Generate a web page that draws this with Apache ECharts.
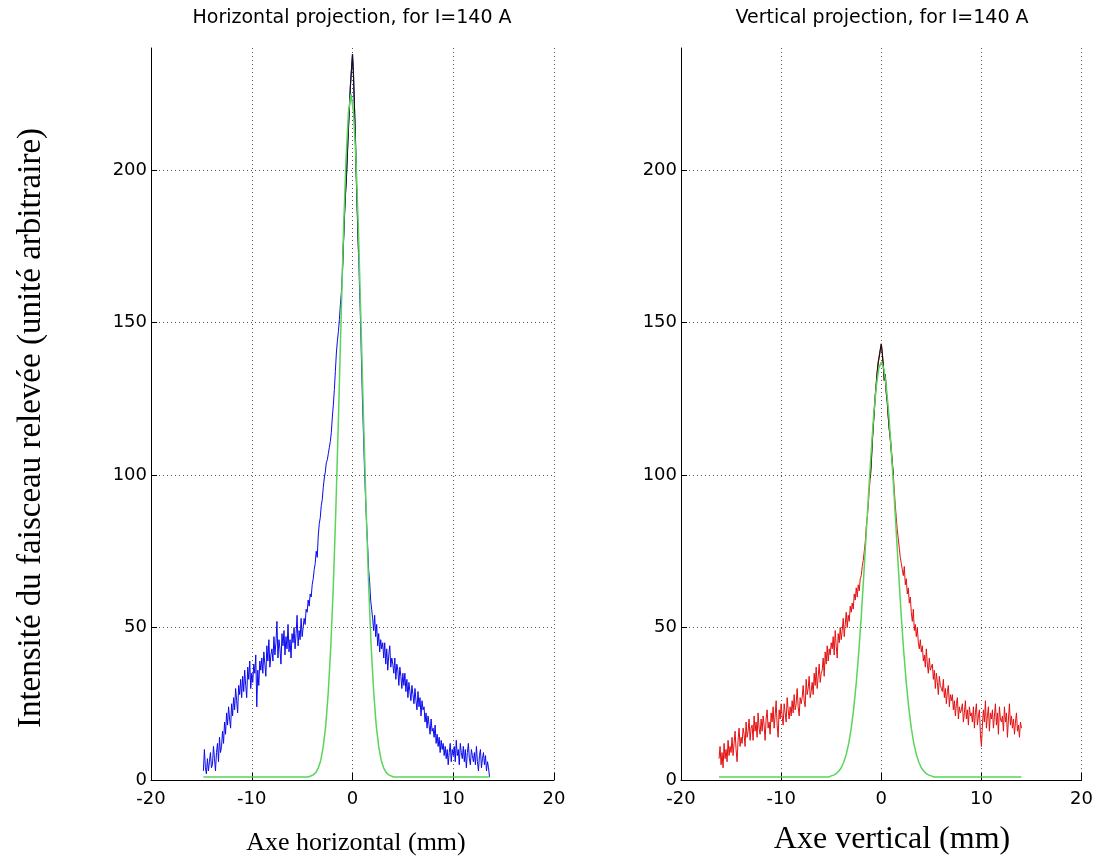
<!DOCTYPE html>
<html>
<head>
<meta charset="utf-8">
<script src="https://cdn.jsdelivr.net/npm/echarts@6/dist/echarts.min.js"></script>
<style>
  html, body { margin: 0; padding: 0; background: #ffffff; }
  #chart { width: 1096px; height: 859px; }
</style>
</head>
<body>
<div id="chart"></div>
<script>
// Beam profile projections measured at I = 140 A.
// Measured samples are taken every 0.1 mm starting at the given position.
const stepMm = 0.1;

// Horizontal projection: measured intensity (arbitrary units)
const horizStart = -14.8;
const horizIntensity = [
  3, 10, 4, 2, 7, 3, 6, 9, 4,
  5, 11, 7, 3, 9, 12, 6, 14, 9, 11,
  16, 12, 19, 15, 22, 18, 24, 20, 17, 25,
  21, 27, 23, 30, 26, 22, 31, 28, 33, 27,
  34, 29, 36, 31, 27, 37, 33, 39, 30, 35,
  32, 38, 35, 41, 24, 36, 31, 39, 36, 40,
  35, 42, 38, 34, 44, 39, 46, 37, 41, 43,
  39, 47, 41, 45, 52, 40, 46, 43, 38, 48,
  44, 49, 41, 47, 43, 51, 42, 46, 40, 48,
  45, 50, 43, 48, 54, 44, 49, 46, 53, 47,
  50, 53, 51, 56, 55, 59, 57, 61, 60, 64,
  66, 69, 71, 75, 73, 80, 84, 86, 90, 92,
  96, 99, 101, 104, 105, 107, 109, 111, 114, 119,
  123, 128, 134, 140, 144, 147, 151, 156, 160, 167,
  176, 185, 192, 198, 206, 214, 221, 228, 233, 238,
  231, 220, 209, 195, 184, 173, 161, 150, 136, 123,
  112, 101, 92, 84, 77, 69, 65, 59, 56, 53,
  49, 54, 47, 51, 44, 48, 42, 46, 43, 45,
  40, 45, 38, 43, 36, 41, 44, 37, 40, 38,
  35, 40, 33, 38, 36, 31, 37, 34, 30, 35,
  31, 35, 29, 33, 27, 32, 29, 26, 31, 28,
  25, 30, 26, 23, 29, 24, 27, 21, 26, 23,
  24, 19, 22, 17, 21, 18, 15, 20, 16, 17,
  14, 18, 12, 15, 11, 14, 9, 13, 10, 12,
  8, 11, 7, 10, 5, 9, 12, 6, 10, 8,
  11, 6, 13, 8, 10, 5, 12, 9, 7, 11,
  6, 10, 4, 9, 12, 7, 5, 10, 8, 6,
  9, 5, 11, 6, 3, 8, 10, 4, 7, 9,
  5, 8, 3, 6, 4, 1
];

// Horizontal projection: gaussian fit
const horizFitX = [
  -14.8, -4.4, -4.15, -3.9, -3.65, -3.4, -3.15, -2.9, -2.65, -2.4, -2.15,
  -1.9, -1.65, -1.4, -1.15, -0.9, -0.65, -0.4, -0.15, 0.1, 0.35, 0.6,
  0.85, 1.1, 1.35, 1.6, 1.85, 2.1, 2.35, 2.6, 2.85, 3.1, 3.35, 3.6, 3.85,
  4.1, 13.6
];
const horizFitY = [
  1, 1, 1.3, 1.7, 2.4, 3.9, 6.4, 11, 18, 29, 44,
  64, 89, 118, 149, 179, 203, 219, 225, 219, 203, 179,
  149, 118, 89, 64, 44, 29, 18, 11, 6.4, 3.9, 2.4, 1.7, 1.3,
  1, 1
];

// Vertical projection: measured intensity (arbitrary units)
const vertStart = -16.2;
const vertIntensity = [
  7, 11, 5,
  9, 4, 12, 7, 10, 6, 13, 8, 11, 9,
  14, 8, 12, 16, 10, 6, 13, 17, 11, 14,
  12, 17, 15, 11, 19, 14, 16, 20, 13, 17,
  18, 13, 21, 16, 19, 14, 22, 17, 15, 20,
  16, 21, 18, 13, 20, 23, 17, 19, 15, 22,
  19, 24, 17, 21, 26, 18, 14, 23, 20, 25,
  21, 18, 25, 22, 19, 27, 23, 20, 24, 21,
  26, 22, 28, 23, 25, 30, 24, 21, 27, 25,
  27, 31, 26, 24, 33, 28, 30, 34, 27, 29,
  32, 28, 35, 31, 37, 30, 34, 38, 32, 35,
  36, 40, 34, 42, 38, 44, 39, 43, 41, 45,
  43, 47, 41, 49, 44, 40, 48, 45, 50, 46,
  49, 53, 47, 51, 55, 50, 54, 52, 57, 55,
  58, 56, 61, 59, 63, 60, 64, 62, 66, 67,
  70, 72, 75, 78, 83, 86, 90, 95, 99, 104,
  111, 116, 121, 126, 130, 134, 137, 139, 141, 143,
  140, 136, 131, 133, 127, 124, 119, 115, 112, 108,
  104, 100, 95, 90, 86, 82, 79, 76, 73, 71,
  69, 67, 70, 64, 66, 61, 63, 58, 60, 55,
  52, 56, 49, 51, 47, 50, 45, 43, 46, 42,
  44, 39, 41, 37, 43, 38, 35, 40, 36, 37,
  38, 33, 36, 30, 35, 32, 28, 34, 31, 30,
  29, 33, 27, 30, 25, 29, 31, 24, 28, 26,
  28, 23, 26, 21, 25, 27, 20, 24, 22, 23,
  25, 19, 22, 26, 20, 23, 18, 24, 21, 22,
  19, 24, 17, 22, 25, 18, 21, 23, 15, 11,
  18, 23, 19, 26, 17, 21, 24, 16, 22, 20,
  23, 17, 21, 25, 18, 22, 15, 24, 20, 19,
  21, 16, 24, 19, 22, 14, 20, 25, 18, 21,
  17, 20, 15, 19, 22, 16, 18, 14, 19, 17
];

// Vertical projection: gaussian fit
const vertFitX = [
  -16.2, -5.25, -5, -4.75, -4.5, -4.25, -4, -3.75, -3.5, -3.25, -3,
  -2.75, -2.5, -2.25, -2, -1.75, -1.5, -1.25, -1, -0.75, -0.5, -0.25,
  0,
  0.25, 0.5, 0.75, 1, 1.25, 1.5, 1.75, 2, 2.25, 2.5, 2.75,
  3, 3.25, 3.5, 3.75, 4, 4.25, 4.5, 4.75, 5, 5.25, 14.0
];
const vertFitY = [
  1, 1, 1.35, 1.6, 2.1, 2.85, 4, 5.8, 8.4, 12, 17,
  23.5, 31.8, 41.8, 53.5, 67, 81, 95, 108, 120, 129, 135,
  137,
  135, 129, 120, 108, 95, 81, 67, 53.5, 41.8, 31.8, 23.5,
  17, 12, 8.4, 5.8, 4, 2.85, 2.1, 1.6, 1.35, 1, 1
];

// Above these levels the measured trace is drawn in black
const horizDarkLevel = 165;
const vertDarkLevel = 98;

// Axis settings
const xTicks = { min: -20, max: 20, interval: 10 };
const yTicks = { min: 0, max: 240, interval: 50 };

function samplePairs(start, values) {
  return values.map((v, i) => [Math.round((start + i * stepMm) * 10) / 10, v]);
}
// Keeps only the part of a trace at or above a level; the rest becomes a gap
function abovePairs(pairs, level) {
  return pairs.map(p => (p[1] >= level ? p : [p[0], null]));
}
function zipPairs(xs, ys) {
  return xs.map((x, i) => [x, ys[i]]);
}

const sansFont = 'DejaVu Sans, Verdana, sans-serif';
const serifFont = 'Liberation Serif, Times New Roman, serif';

function makeXAxis(gridIndex) {
  return {
    type: 'value', gridIndex,
    min: xTicks.min, max: xTicks.max, interval: xTicks.interval,
    axisLine: { show: true, onZero: false, lineStyle: { color: '#000', width: 1 } },
    axisTick: { show: true, inside: true, length: 7, lineStyle: { color: '#000' } },
    axisLabel: { color: '#000', fontFamily: sansFont, fontSize: 18, margin: 10 },
    splitLine: { show: true, showMinLine: false, lineStyle: { color: '#555', type: [1, 3], width: 1 } }
  };
}
function makeYAxis(gridIndex) {
  return {
    type: 'value', gridIndex,
    min: yTicks.min, max: yTicks.max, interval: yTicks.interval,
    axisLine: { show: true, onZero: false, lineStyle: { color: '#000', width: 1 } },
    axisTick: { show: true, inside: true, length: 6, lineStyle: { color: '#000' } },
    axisLabel: { color: '#000', fontFamily: sansFont, fontSize: 18, margin: 4, showMaxLabel: false },
    splitLine: { show: true, showMinLine: false, showMaxLine: false, lineStyle: { color: '#555', type: [1, 3], width: 1 } }
  };
}

const horizPairs = samplePairs(horizStart, horizIntensity);
const vertPairs = samplePairs(vertStart, vertIntensity);
const fitColor = '#5ad45a';

const chart = echarts.init(document.getElementById('chart'), null, { renderer: 'canvas' });
chart.setOption({
  animation: false,
  backgroundColor: '#ffffff',
  grid: [
    { left: 151, top: 48, width: 403, height: 732 },
    { left: 681, top: 48, width: 402, height: 732 }
  ],
  xAxis: [makeXAxis(0), makeXAxis(1)],
  yAxis: [makeYAxis(0), makeYAxis(1)],
  series: [
    { type: 'line', xAxisIndex: 0, yAxisIndex: 0, showSymbol: false, z: 2,
      lineStyle: { width: 1, color: '#0a0aee' }, data: horizPairs },
    { type: 'line', xAxisIndex: 0, yAxisIndex: 0, showSymbol: false, z: 3, connectNulls: false,
      lineStyle: { width: 1.2, color: '#141414' }, data: abovePairs(horizPairs, horizDarkLevel) },
    { type: 'line', xAxisIndex: 0, yAxisIndex: 0, showSymbol: false, z: 4,
      lineStyle: { width: 1.5, color: fitColor }, itemStyle: { color: fitColor },
      data: zipPairs(horizFitX, horizFitY) },
    { type: 'line', xAxisIndex: 1, yAxisIndex: 1, showSymbol: false, z: 2,
      lineStyle: { width: 1, color: '#e41010' }, data: vertPairs },
    { type: 'line', xAxisIndex: 1, yAxisIndex: 1, showSymbol: false, z: 3, connectNulls: false,
      lineStyle: { width: 1.2, color: '#141414' }, data: abovePairs(vertPairs, vertDarkLevel) },
    { type: 'line', xAxisIndex: 1, yAxisIndex: 1, showSymbol: false, z: 4,
      lineStyle: { width: 1.5, color: fitColor }, itemStyle: { color: fitColor },
      data: zipPairs(vertFitX, vertFitY) }
  ],
  graphic: [
    { type: 'text', x: 352, y: 18,
      style: { text: 'Horizontal projection, for I=140 A', fontFamily: sansFont, fontSize: 19,
               fill: '#000', align: 'center', verticalAlign: 'middle' } },
    { type: 'text', x: 882, y: 18,
      style: { text: 'Vertical projection, for I=140 A', fontFamily: sansFont, fontSize: 19,
               fill: '#000', align: 'center', verticalAlign: 'middle' } },
    { type: 'text', x: 31, y: 428, rotation: Math.PI / 2,
      style: { text: 'Intensité du faisceau relevée (unité arbitraire)', fontFamily: serifFont,
               fontSize: 33, fill: '#000', align: 'center', verticalAlign: 'middle' } },
    { type: 'text', x: 356, y: 843,
      style: { text: 'Axe horizontal (mm)', fontFamily: serifFont, fontSize: 26,
               fill: '#000', align: 'center', verticalAlign: 'middle' } },
    { type: 'text', x: 892, y: 840,
      style: { text: 'Axe vertical (mm)', fontFamily: serifFont, fontSize: 32,
               fill: '#000', align: 'center', verticalAlign: 'middle' } }
  ]
});
</script>
</body>
</html>
